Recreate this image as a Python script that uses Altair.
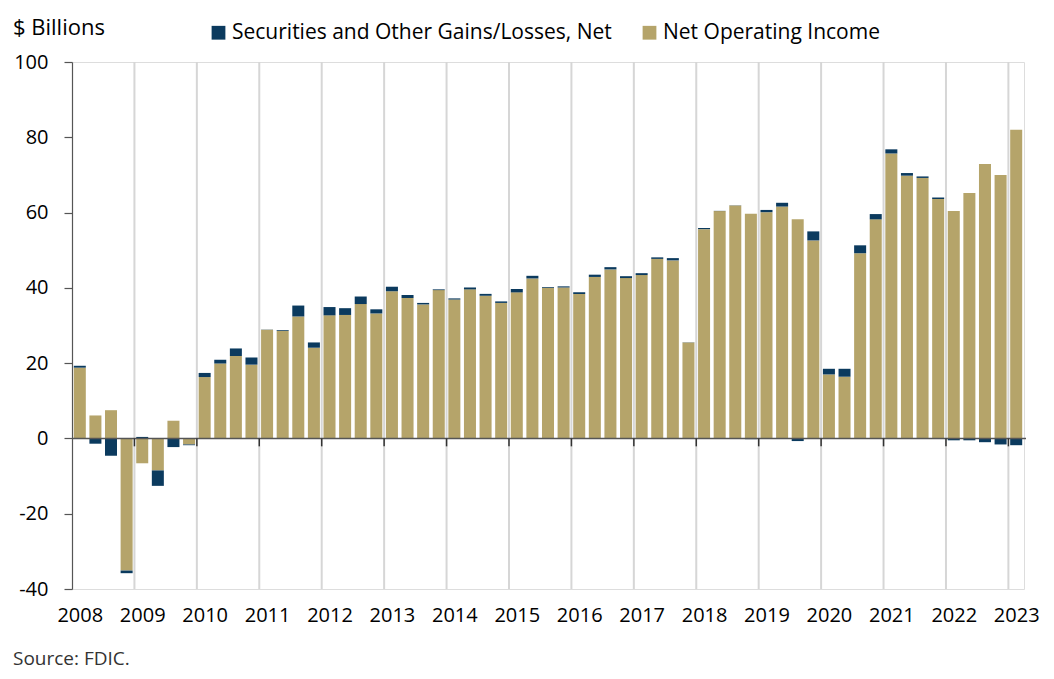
import altair as alt
import pandas as pd

# ---------------- data ----------------
first_year = 2008
year_labels = [str(y) for y in range(2008, 2024)]
quarters = [f"{y}Q{q}" for y in range(2008, 2023) for q in range(1, 5)] + ["2023Q1"]

net_operating_income = [
    18.8, 6.1, 7.5, -35.1,      # 2008
    -6.6, -8.5, 4.7, -1.6,      # 2009
    16.3, 19.9, 21.9, 19.6,     # 2010
    28.9, 28.6, 32.4, 24.1,     # 2011
    32.7, 32.8, 35.7, 33.2,     # 2012
    39.1, 37.3, 35.6, 39.4,     # 2013
    36.9, 39.6, 37.9, 36.0,     # 2014
    38.8, 42.5, 40.0, 40.1,     # 2015
    38.4, 42.9, 44.9, 42.6,     # 2016
    43.4, 47.7, 47.3, 25.5,     # 2017
    55.6, 60.4, 61.9, 59.7,     # 2018
    60.1, 61.6, 58.2, 52.6,     # 2019
    17.0, 16.4, 49.2, 58.2,     # 2020
    75.7, 69.8, 69.2, 63.6,     # 2021
    60.4, 65.2, 72.9, 70.0,     # 2022
    82.0,                       # 2023
]
securities_gains = [
    0.5, -1.4, -4.6, -0.7,
    0.4, -4.1, -2.3, -0.2,
    1.1, 1.0, 2.0, 1.9,
    0.05, 0.2, 2.9, 1.4,
    2.2, 1.8, 2.0, 1.1,
    1.2, 0.8, 0.4, 0.2,
    0.3, 0.5, 0.5, 0.4,
    0.9, 0.7, 0.2, 0.3,
    0.4, 0.6, 0.6, 0.5,
    0.5, 0.4, 0.6, 0.05,
    0.3, 0.05, 0.05, -0.2,
    0.6, 1.0, -0.7, 2.4,
    1.5, 2.1, 2.1, 1.4,
    1.1, 0.7, 0.4, 0.4,
    -0.5, -0.5, -1.0, -1.6,
    -1.8,
]

series_names = ["Securities and Other Gains/Losses, Net", "Net Operating Income"]
series_colors = ["#0B3A5E", "#B5A46A"]

y_ticks = [-40, -20, 0, 20, 40, 60, 80, 100]

# ---------------- build tables ----------------
rows = []
for i, (n, s) in enumerate(zip(net_operating_income, securities_gains)):
    n0, n1 = (0, n) if n >= 0 else (n, 0)
    if s >= 0:
        base = n if n >= 0 else 0
    else:
        base = n if n < 0 else 0
    rows.append(dict(idx=i, quarter=quarters[i], series=series_names[1], y0=n0, y1=n1))
    rows.append(dict(idx=i, quarter=quarters[i], series=series_names[0], y0=base, y1=base + s))
df = pd.DataFrame(rows)

n_q = len(quarters)
bounds = list(range(4, n_q, 4))
year_bounds = pd.DataFrame({"b": bounds, "t0": [0] * len(bounds), "t1": [-2.1] * len(bounds)})
label_positions = [i * 4 + 0.5 for i in range(len(year_labels))]

W, H = 952, 527
FONT = "Open Sans"

x_scale = alt.Scale(domain=[0, n_q], nice=False, zero=False, padding=0)
y_scale = alt.Scale(domain=[-40, 100], nice=False, padding=0)

x_axis = alt.Axis(
    values=label_positions,
    labelExpr=f"'' + ({first_year} + floor(datum.value / 4))",
    ticks=False,
    domain=False,
    grid=False,
    title=None,
    labelFontSize=20,
    labelFont=FONT,
    labelColor="#000000",
    labelPadding=16,
    labelFlush=False,
    labelOverlap=False,
)
y_axis = alt.Axis(
    values=y_ticks,
    labelExpr="'' + datum.value",
    grid=False,
    title=None,
    domainColor="#555555",
    domainWidth=1.2,
    tickColor="#555555",
    tickWidth=1.2,
    tickSize=8,
    labelPadding=16,
    labelFontSize=20,
    labelFont=FONT,
    labelColor="#000000",
)

grid = alt.Chart(year_bounds).mark_rule(color="#d6d6d6", strokeWidth=2).encode(
    x=alt.X("b:Q", scale=x_scale, axis=x_axis)
)

bars = alt.Chart(df).transform_calculate(
    xa="datum.idx + 0.115", xb="datum.idx + 0.885"
).mark_bar().encode(
    x=alt.X("xa:Q", scale=x_scale, axis=x_axis),
    x2="xb:Q",
    y=alt.Y("y0:Q", scale=y_scale, axis=y_axis),
    y2="y1:Q",
    color=alt.Color(
        "series:N",
        scale=alt.Scale(domain=series_names, range=series_colors),
        legend=alt.Legend(
            title=None,
            orient="none",
            direction="horizontal",
            legendX=136,
            legendY=-40,
            symbolType="square",
            symbolSize=190,
            symbolStrokeWidth=0,
            symbolOpacity=1,
            labelFontSize=21,
            labelFont=FONT,
            labelColor="#000000",
            labelLimit=600,
            labelOffset=3,
            columnPadding=27,
            padding=0,
        ),
    ),
)

zero_line = alt.Chart(pd.DataFrame({"v": [0]})).mark_rule(color="#555555", strokeWidth=1.5).encode(
    y=alt.Y("v:Q", scale=y_scale, axis=y_axis), x=alt.value(0), x2=alt.value(W + 2)
)

zero_ticks = alt.Chart(year_bounds).mark_rule(color="#333333", strokeWidth=1.5).encode(
    x=alt.X("b:Q", scale=x_scale, axis=x_axis),
    y=alt.Y("t0:Q", scale=y_scale, axis=y_axis),
    y2="t1:Q",
)

title = alt.Chart(pd.DataFrame({"t": ["$ Billions"]})).mark_text(
    align="left", baseline="alphabetic", fontSize=22, font=FONT, color="#000000"
).encode(text="t:N", x=alt.value(-59), y=alt.value(-27))

source = alt.Chart(pd.DataFrame({"t": ["Source: FDIC."]})).mark_text(
    align="left", baseline="alphabetic", fontSize=19, font=FONT, color="#333333"
).encode(text="t:N", x=alt.value(-59), y=alt.value(H + 76))

chart = alt.layer(grid, bars, zero_line, zero_ticks, title, source).properties(
    width=W,
    height=H,
    autosize=alt.AutoSizeParams(type="none"),
    padding={"left": 64, "top": 54, "right": 22, "bottom": 85},
).configure_view(stroke="transparent", strokeWidth=0).configure(font=FONT)

chart.save("out.html", embed_options={"renderer": "svg", "actions": False})
